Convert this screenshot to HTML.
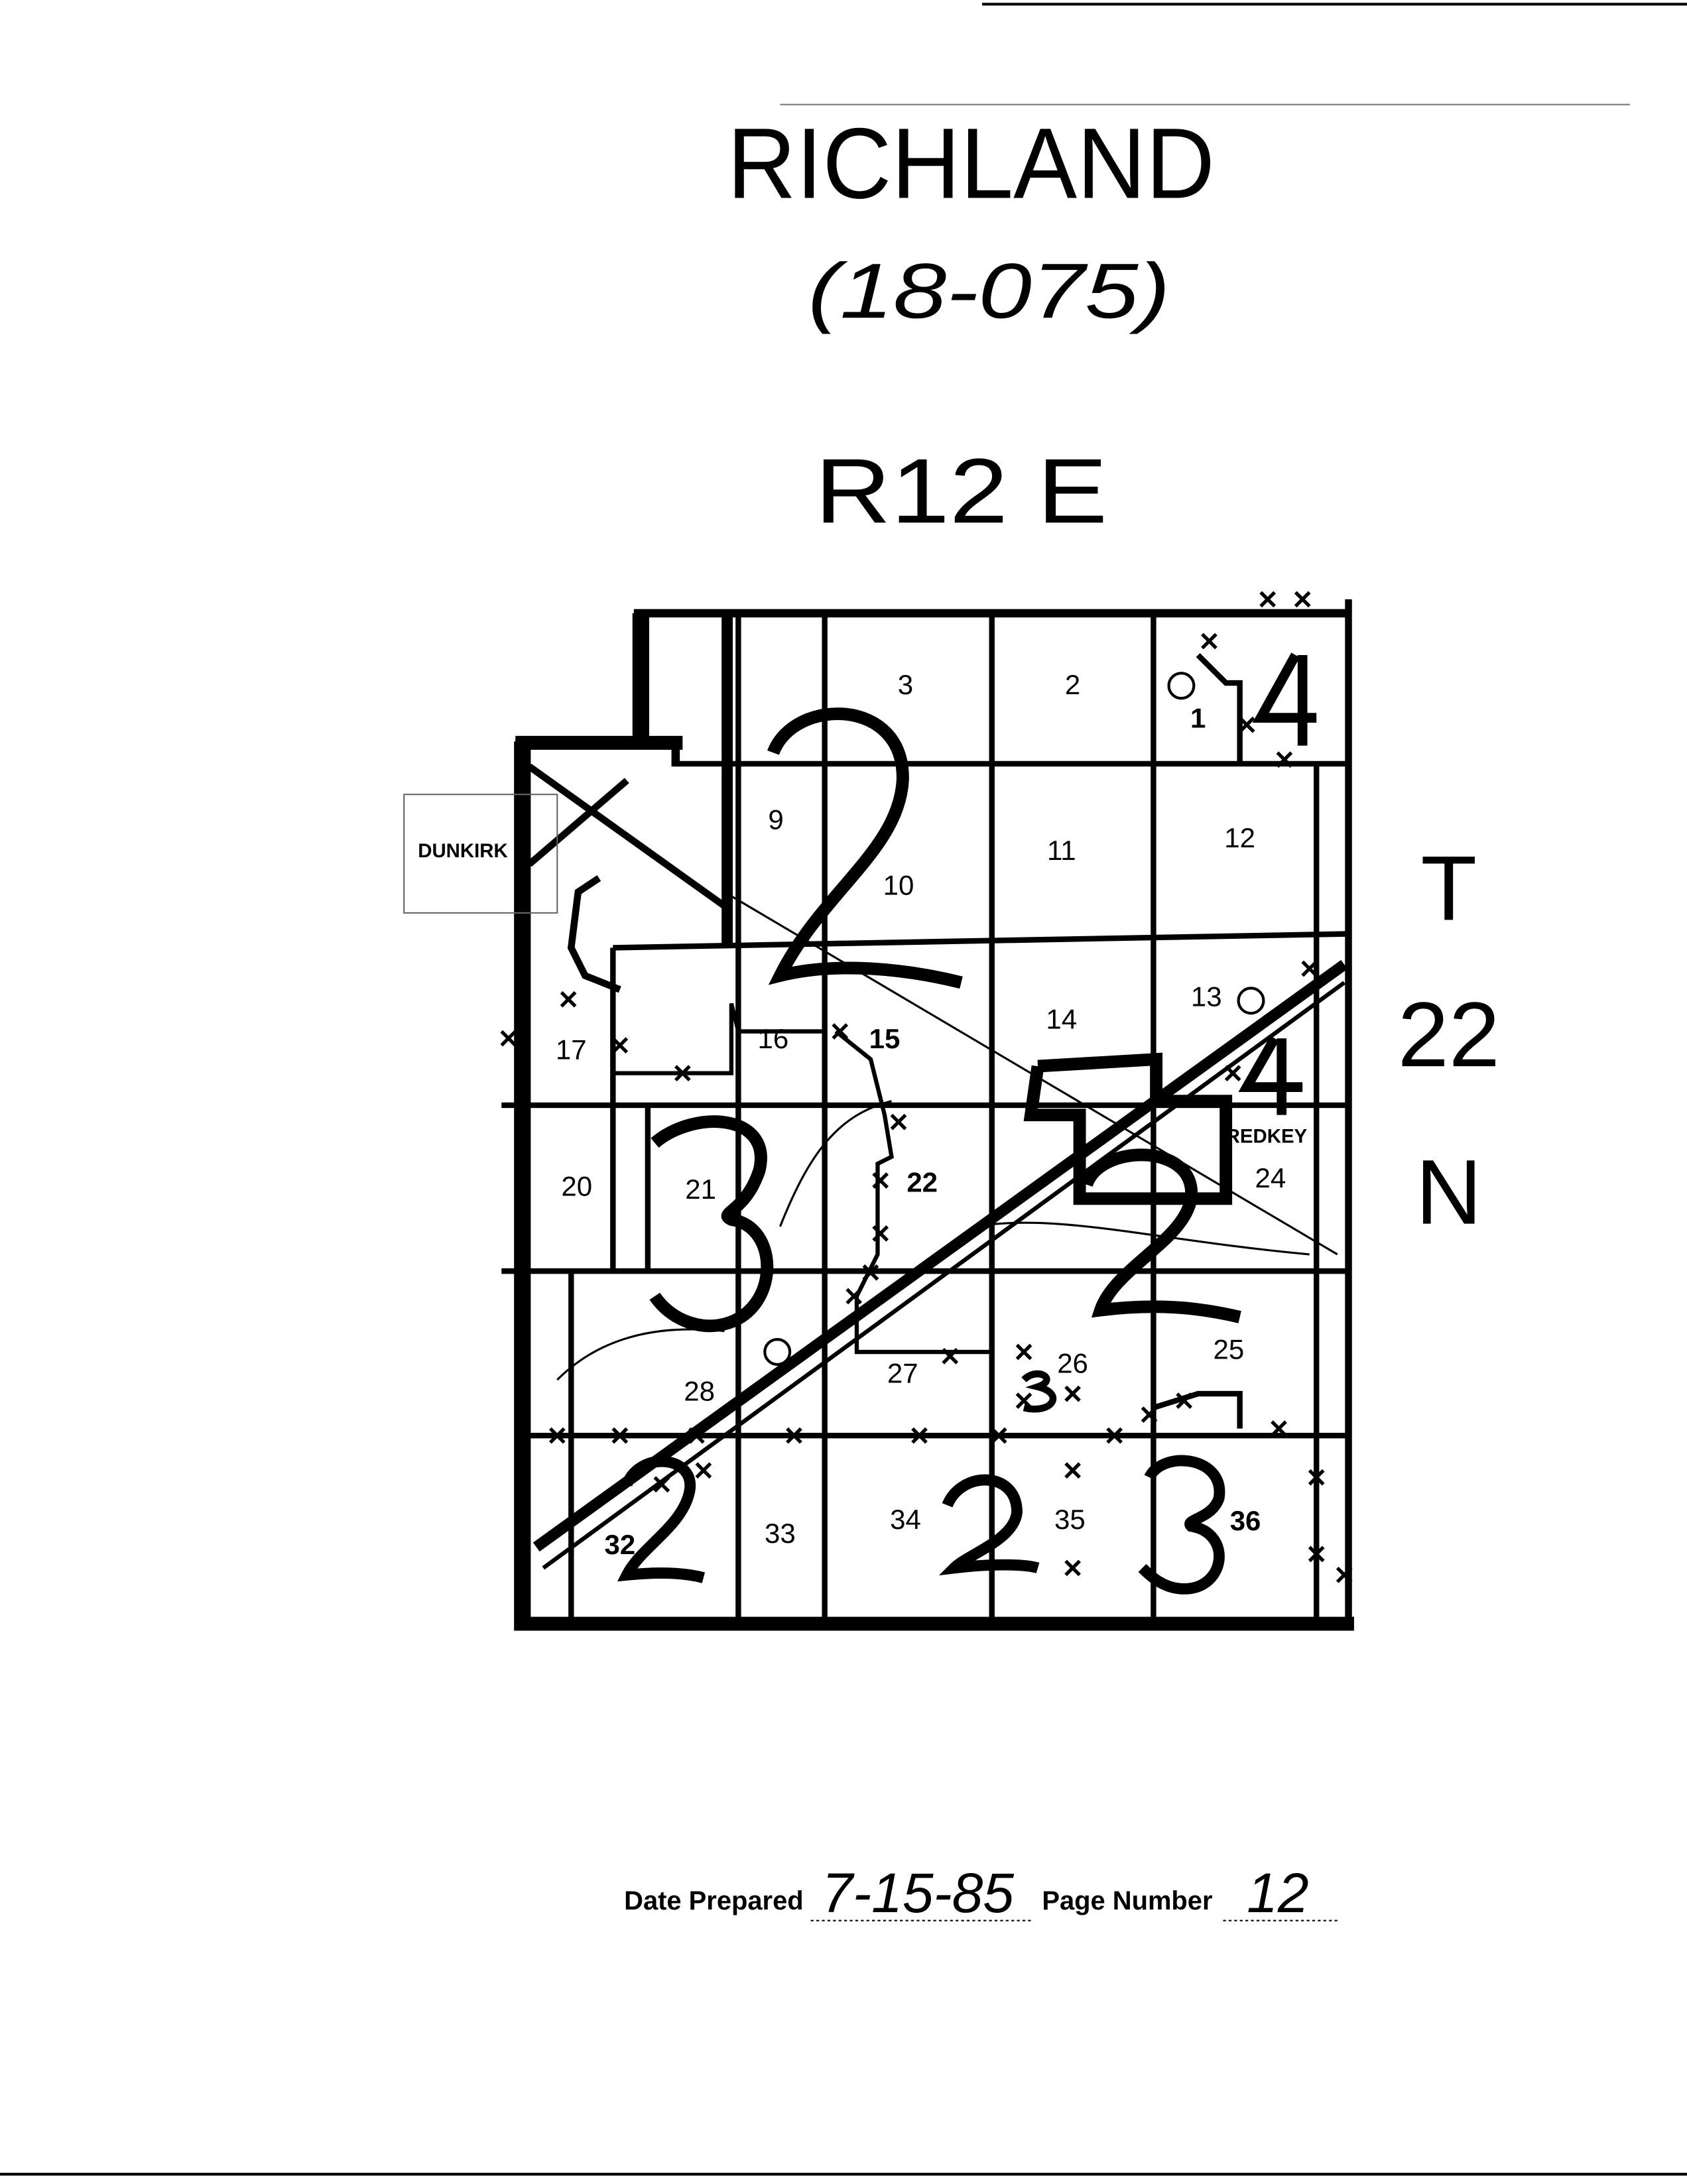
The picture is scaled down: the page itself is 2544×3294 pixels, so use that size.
<!DOCTYPE html>
<html><head><meta charset="utf-8"><style>
html,body{margin:0;padding:0;background:#fff;}
svg{display:block;}
text{font-family:"Liberation Sans",sans-serif;fill:#000;}
.h{font-family:"Liberation Sans",sans-serif;font-style:italic;}
</style></head><body>
<svg width="2544" height="3294" viewBox="0 0 1211 1567" preserveAspectRatio="none" xmlns="http://www.w3.org/2000/svg">
<rect width="1211" height="1567" fill="#fff"/>
<line x1="705" y1="3" x2="1211" y2="3" stroke="#000" stroke-width="2"/>
<line x1="560" y1="75" x2="1170" y2="75" stroke="#777" stroke-width="1"/>
<line x1="0" y1="1560" x2="1211" y2="1560" stroke="#000" stroke-width="2"/>
<text x="697" y="142" font-size="72" text-anchor="middle" textLength="350" lengthAdjust="spacingAndGlyphs">RICHLAND</text>
<text x="710" y="228" font-size="56" text-anchor="middle" class="h" textLength="260" lengthAdjust="spacingAndGlyphs">(18-075)</text>
<text x="690" y="375" font-size="66" text-anchor="middle" textLength="210" lengthAdjust="spacingAndGlyphs">R12 E</text>
<text x="1040" y="660" font-size="66" text-anchor="middle">T</text>
<text x="1040" y="765" font-size="66" text-anchor="middle">22</text>
<text x="1040" y="878" font-size="66" text-anchor="middle">N</text>

<g stroke="#000" fill="none">
<!-- outer boundary -->
<polyline points="457,440 968,440 968,1165 372,1165 372,532 457,532 457,440" stroke-width="4" stroke-dasharray="10,4"/>
<line x1="375" y1="532" x2="375" y2="1170" stroke-width="12"/>
<line x1="370" y1="1165" x2="972" y2="1165" stroke-width="10"/>
<line x1="460" y1="440" x2="460" y2="535" stroke-width="12"/>
<line x1="370" y1="533" x2="490" y2="533" stroke-width="10"/>
<line x1="485" y1="533" x2="485" y2="550" stroke-width="6"/>
<line x1="968" y1="430" x2="968" y2="1165" stroke-width="5"/>
<line x1="455" y1="440" x2="970" y2="440" stroke-width="6"/>
<!-- horizontals -->
<g stroke-width="4">
<line x1="485" y1="548" x2="970" y2="548"/>
<line x1="440" y1="680" x2="970" y2="670"/>
<line x1="360" y1="793" x2="970" y2="793"/>
<line x1="360" y1="912" x2="970" y2="912"/>
<line x1="380" y1="1030" x2="970" y2="1030"/>
</g>
<!-- verticals -->
<g stroke-width="4">
<line x1="530" y1="440" x2="530" y2="1165"/>
<line x1="592" y1="440" x2="592" y2="1165"/>
<line x1="712" y1="440" x2="712" y2="1165"/>
<line x1="828" y1="440" x2="828" y2="1165"/>
<line x1="945" y1="548" x2="945" y2="1165"/>
<line x1="440" y1="680" x2="440" y2="912"/>
<line x1="410" y1="912" x2="410" y2="1165"/>
<line x1="465" y1="793" x2="465" y2="912"/>
</g>
<line x1="522" y1="440" x2="522" y2="680" stroke-width="8"/>
<!-- railroad diagonal -->
<line x1="385" y1="1110" x2="965" y2="692" stroke-width="8"/>
<line x1="390" y1="1125" x2="965" y2="705" stroke-width="3"/>
<line x1="380" y1="550" x2="520" y2="650" stroke-width="5"/>
<line x1="380" y1="620" x2="450" y2="560" stroke-width="5"/>
<line x1="520" y1="640" x2="960" y2="900" stroke-width="1.5"/>
<!-- Dunkirk -->
<rect x="290" y="570" width="110" height="85" stroke-width="1" stroke="#666"/>
<!-- Redkey block -->
<polyline points="745,765 830,760 830,790 880,790 880,860 775,860 775,800 740,800 745,765" stroke-width="9"/>
<!-- jog lines -->
<polyline points="600,740 625,760 635,800 640,830 630,835 630,900 615,930 615,970 712,970" stroke-width="3"/>
<polyline points="440,770 525,770 525,720 530,740 590,740" stroke-width="3"/>
<polyline points="828,1010 860,1000 890,1000 890,1025" stroke-width="4"/>
<polyline points="860,470 880,490 890,490 890,548" stroke-width="4"/>
<polyline points="445,710 420,700 410,680 415,640 430,630" stroke-width="5"/>
<!-- streams -->
<path d="M560,880 C580,830 600,800 640,790" stroke-width="1.5"/>
<path d="M700,880 C760,870 830,890 940,900" stroke-width="1.5"/>
<path d="M400,990 C430,960 470,950 520,955" stroke-width="1.5"/>
<!-- big handwritten numerals -->
<path d="M555,540 C570,500 650,500 648,560 C645,610 590,640 560,700 C600,690 650,695 690,705" stroke-width="9"/>
<path d="M470,820 C500,795 555,800 545,840 C535,870 515,870 525,875 C560,880 560,940 520,950 C500,955 480,945 470,930" stroke-width="9"/>
<path d="M780,850 C790,820 860,820 855,860 C850,890 800,910 790,940 C830,935 860,938 890,945" stroke-width="9"/>
<path d="M680,1080 C690,1055 730,1055 730,1085 C728,1105 695,1115 685,1125 C710,1122 735,1122 745,1125" stroke-width="8"/>
<path d="M825,1060 C835,1040 880,1045 875,1075 C870,1090 850,1090 855,1095 C885,1100 880,1140 850,1140 C835,1140 825,1130 820,1125" stroke-width="8"/>
<path d="M450,1065 C460,1040 500,1045 495,1070 C490,1095 460,1110 450,1130 C470,1128 490,1128 505,1132" stroke-width="8"/>
<path d="M930,470 L905,515 L945,515 M935,470 L935,535" stroke-width="7"/>
<path d="M915,745 L895,780 L935,780 M920,745 L920,800" stroke-width="7"/>
<path d="M735,990 C745,980 760,990 745,995 C765,1000 755,1015 735,1010" stroke-width="5"/>
<circle cx="848" cy="492" r="9" stroke-width="2"/>
<circle cx="558" cy="970" r="9" stroke-width="2"/>
<circle cx="898" cy="718" r="9" stroke-width="2"/>
</g>
<!-- X marks -->
<g stroke="#000" stroke-width="2.5">
<path d="M905,425l10,10m0,-10l-10,10 M930,425l10,10m0,-10l-10,10 M917,540l10,10m0,-10l-10,10 M863,455l10,10m0,-10l-10,10 M890,515l10,10m0,-10l-10,10 M935,690l10,10m0,-10l-10,10 M880,765l10,10m0,-10l-10,10 M403,712l10,10m0,-10l-10,10 M360,740l10,10m0,-10l-10,10 M440,745l10,10m0,-10l-10,10 M485,765l10,10m0,-10l-10,10 M598,735l10,10m0,-10l-10,10 M640,800l10,10m0,-10l-10,10 M627,842l10,10m0,-10l-10,10 M627,880l10,10m0,-10l-10,10 M620,908l10,10m0,-10l-10,10 M608,925l10,10m0,-10l-10,10 M677,968l10,10m0,-10l-10,10 M730,965l10,10m0,-10l-10,10 M765,995l10,10m0,-10l-10,10 M730,1000l10,10m0,-10l-10,10 M395,1025l10,10m0,-10l-10,10 M440,1025l10,10m0,-10l-10,10 M495,1025l10,10m0,-10l-10,10 M565,1025l10,10m0,-10l-10,10 M655,1025l10,10m0,-10l-10,10 M712,1025l10,10m0,-10l-10,10 M795,1025l10,10m0,-10l-10,10 M820,1010l10,10m0,-10l-10,10 M845,1000l10,10m0,-10l-10,10 M913,1020l10,10m0,-10l-10,10 M940,1055l10,10m0,-10l-10,10 M940,1110l10,10m0,-10l-10,10 M960,1125l10,10m0,-10l-10,10 M765,1050l10,10m0,-10l-10,10 M765,1120l10,10m0,-10l-10,10 M500,1050l10,10m0,-10l-10,10 M470,1060l10,10m0,-10l-10,10"/>
</g>
<!-- section numbers -->
<g font-size="20" text-anchor="middle">
<text x="650" y="498">3</text><text x="770" y="498">2</text><text x="860" y="522" font-weight="bold">1</text>
<text x="557" y="595">9</text><text x="645" y="642">10</text><text x="762" y="617">11</text><text x="890" y="608">12</text>
<text x="410" y="760">17</text><text x="555" y="752">16</text><text x="635" y="752" font-weight="bold">15</text><text x="762" y="738">14</text><text x="866" y="722">13</text>
<text x="414" y="858">20</text><text x="503" y="860">21</text><text x="662" y="855" font-weight="bold">22</text><text x="912" y="852">24</text>
<text x="502" y="1005">28</text><text x="648" y="992">27</text><text x="770" y="985">26</text><text x="882" y="975">25</text>
<text x="445" y="1115" font-weight="bold">32</text><text x="560" y="1107">33</text><text x="650" y="1097">34</text><text x="768" y="1097">35</text><text x="894" y="1098" font-weight="bold">36</text>
</g>
<text x="300" y="615" font-size="14" font-weight="bold">DUNKIRK</text>
<text x="880" y="820" font-size="14" font-weight="bold">REDKEY</text>
<!-- footer -->
<text x="448" y="1370" font-size="19" font-weight="bold">Date Prepared</text>
<text x="590" y="1372" font-size="40" class="h">7-15-85</text>
<line x1="582" y1="1378" x2="742" y2="1378" stroke="#000" stroke-width="1" stroke-dasharray="2,2"/>
<text x="748" y="1370" font-size="19" font-weight="bold">Page Number</text>
<text x="895" y="1372" font-size="40" class="h">12</text>
<line x1="878" y1="1378" x2="962" y2="1378" stroke="#000" stroke-width="1" stroke-dasharray="2,2"/>
</svg>
</body></html>
